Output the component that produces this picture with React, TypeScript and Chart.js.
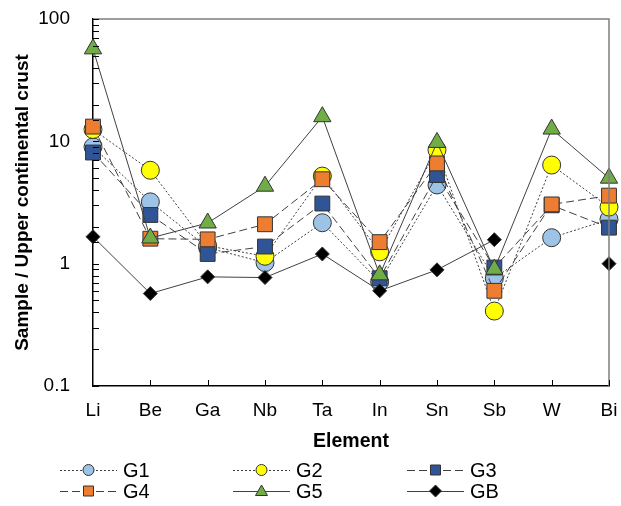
import React, { useEffect, useRef } from 'react';
import { Chart, registerables } from 'chart.js';

Chart.register(...registerables);

const elements = ['Li', 'Be', 'Ga', 'Nb', 'Ta', 'In', 'Sn', 'Sb', 'W', 'Bi'];
const g1 = [9.0, 3.2, 1.35, 1.02, 2.16, 0.71, 4.4, 0.76, 1.63, 2.3];
const g2 = [12.5, 5.8, 1.4, 1.15, 5.2, 1.25, 8.5, 0.41, 6.4, 2.9];
const g3 = [8.1, 2.5, 1.2, 1.38, 3.1, 0.76, 5.3, 0.93, 3.0, 1.97];
const g4 = [13.2, 1.6, 1.58, 2.1, 4.9, 1.5, 6.6, 0.6, 3.05, 3.6];
const g5 = [57, 1.62, 2.15, 4.3, 15.9, 0.81, 9.8, 0.9, 12.6, 5.0];
const gb = [1.66, 0.57, 0.78, 0.77, 1.2, 0.6, 0.89, 1.57, null, 1.0];
const yTickLabels = [0.1, 1, 10, 100];
const seriesNames = ['G1', 'G2', 'G3', 'G4', 'G5', 'GB'];

const FONT = "'Liberation Sans', Arial, Helvetica, sans-serif";
const LINE = '#404040';
const EDGE = '#333333';

const styles = [
  { data: g1, fill: '#9DC3E6', shape: 'circle', dash: [2, 2], r: 9 },
  { data: g2, fill: '#FFFF00', shape: 'circle', dash: [2, 2], r: 9 },
  { data: g3, fill: '#2F5597', shape: 'rect', dash: [8, 4], r: 10.5 },
  { data: g4, fill: '#ED7D31', shape: 'rect', dash: [8, 4], r: 10.5 },
  { data: g5, fill: '#70AD47', shape: 'triangle', dash: [], r: 10 },
  { data: gb, fill: '#000000', shape: 'rectRot', dash: [], r: 7 },
];

function drawMarker(ctx: CanvasRenderingContext2D, shape: string, x: number, y: number, fill: string) {
  ctx.save();
  ctx.setLineDash([]);
  ctx.fillStyle = fill;
  ctx.strokeStyle = EDGE;
  ctx.lineWidth = 1;
  ctx.beginPath();
  if (shape === 'circle') {
    ctx.arc(x, y, 5.5, 0, Math.PI * 2);
  } else if (shape === 'rect') {
    ctx.rect(x - 5, y - 5, 10, 10);
  } else if (shape === 'triangle') {
    ctx.moveTo(x, y - 6);
    ctx.lineTo(x + 6, y + 4.5);
    ctx.lineTo(x - 6, y + 4.5);
    ctx.closePath();
  } else {
    ctx.moveTo(x, y - 6);
    ctx.lineTo(x + 6, y);
    ctx.lineTo(x, y + 6);
    ctx.lineTo(x - 6, y);
    ctx.closePath();
  }
  ctx.fill();
  ctx.stroke();
  ctx.restore();
}

const framePlugin = {
  id: 'framePlugin',
  afterDraw(chart: any) {
    const { ctx, chartArea } = chart;
    const { left, right, top, bottom } = chartArea;
    const xs = chart.scales.x;
    const ys = chart.scales.y;
    ctx.save();
    ctx.strokeStyle = '#7f7f7f';
    ctx.lineWidth = 1.5;
    ctx.beginPath();
    ctx.moveTo(left, top);
    ctx.lineTo(right, top);
    ctx.lineTo(right, bottom);
    ctx.stroke();
    ctx.strokeStyle = '#000';
    ctx.lineWidth = 1;
    ctx.beginPath();
    for (let i = 1; i < elements.length; i++) {
      const px = Math.round(xs.getPixelForValue(i)) + 0.5;
      ctx.moveTo(px, bottom);
      ctx.lineTo(px, bottom - 6);
    }
    ys.ticks.forEach((t: any) => {
      const py = Math.round(ys.getPixelForValue(t.value)) + 0.5;
      ctx.moveTo(left, py);
      ctx.lineTo(left + 6, py);
    });
    ctx.stroke();

    const colX = [60, 233, 407];
    const rowY = [470, 491];
    styles.forEach((s, i) => {
      const cx = colX[i % 3];
      const cy = rowY[Math.floor(i / 3)];
      ctx.save();
      ctx.strokeStyle = LINE;
      ctx.lineWidth = 1;
      ctx.setLineDash(s.dash);
      ctx.beginPath();
      ctx.moveTo(cx, cy + 0.5);
      ctx.lineTo(cx + 57, cy + 0.5);
      ctx.stroke();
      ctx.restore();
      drawMarker(ctx, s.shape, cx + 28.5, cy, s.fill);
      ctx.fillStyle = '#000';
      ctx.font = `20px ${FONT}`;
      ctx.textBaseline = 'middle';
      ctx.textAlign = 'left';
      ctx.fillText(seriesNames[i], cx + 63, cy + 1);
    });
    ctx.restore();
  },
};

export default function App() {
  const ref = useRef<HTMLCanvasElement | null>(null);
  useEffect(() => {
    if (!ref.current) return;
    Chart.defaults.font.family = FONT;
    const chart = new Chart(ref.current, {
      type: 'line',
      data: {
        labels: elements,
        datasets: styles.map((s, i) => ({
          label: seriesNames[i],
          data: s.data,
          borderColor: LINE,
          borderWidth: 1,
          borderDash: s.dash,
          backgroundColor: s.fill,
          pointBackgroundColor: s.fill,
          pointBorderColor: EDGE,
          pointBorderWidth: 1,
          pointStyle: s.shape as any,
          pointRadius: s.r,
          pointHoverRadius: s.r,
          tension: 0,
          fill: false,
          spanGaps: false,
          clip: false as any,
          order: 6 - i,
        })),
      },
      options: {
        animation: false,
        responsive: false,
        maintainAspectRatio: false,
        events: [],
        layout: { padding: { top: 19, right: 12, left: 0, bottom: 50 } },
        plugins: { legend: { display: false }, tooltip: { enabled: false } },
        scales: {
          x: {
            type: 'category',
            offset: false,
            grid: { display: false },
            border: { display: true, color: '#000', width: 1.5 },
            ticks: { font: { size: 19 }, color: '#000', padding: 5, maxRotation: 0, autoSkip: false },
            title: { display: true, text: 'Element', color: '#000', font: { size: 19.5, weight: 'bold' }, padding: { top: 0, bottom: 3 } },
            afterFit: (s: any) => { s.height = 70; s.paddingLeft = 0; s.paddingRight = 0; },
          },
          y: {
            type: 'logarithmic',
            min: 0.1,
            max: 100,
            grid: { display: false },
            border: { display: true, color: '#000', width: 1.5 },
            ticks: {
              autoSkip: false,
              font: { size: 19 },
              color: '#000',
              padding: 15,
              callback: (v: any) => {
                const val = Number(v);
                const hit = yTickLabels.find((t) => Math.abs(Math.log10(t) - Math.log10(val)) < 1e-6);
                return hit !== undefined ? String(hit) : '';
              },
            },
            title: { display: true, text: 'Sample / Upper continental crust', color: '#000', font: { size: 19, weight: 'bold' }, padding: { top: 11, bottom: 0 } },
            afterFit: (s: any) => { s.width = 93; s.paddingTop = 0; s.paddingBottom = 0; },
          },
        },
      },
      plugins: [framePlugin],
    });
    return () => chart.destroy();
  }, []);
  return (
    <div style={{ position: 'absolute', left: 0, top: 0, width: 621, height: 506 }}>
      <canvas ref={ref} width={621} height={506} style={{ width: 621, height: 506, display: 'block' }} />
    </div>
  );
}
